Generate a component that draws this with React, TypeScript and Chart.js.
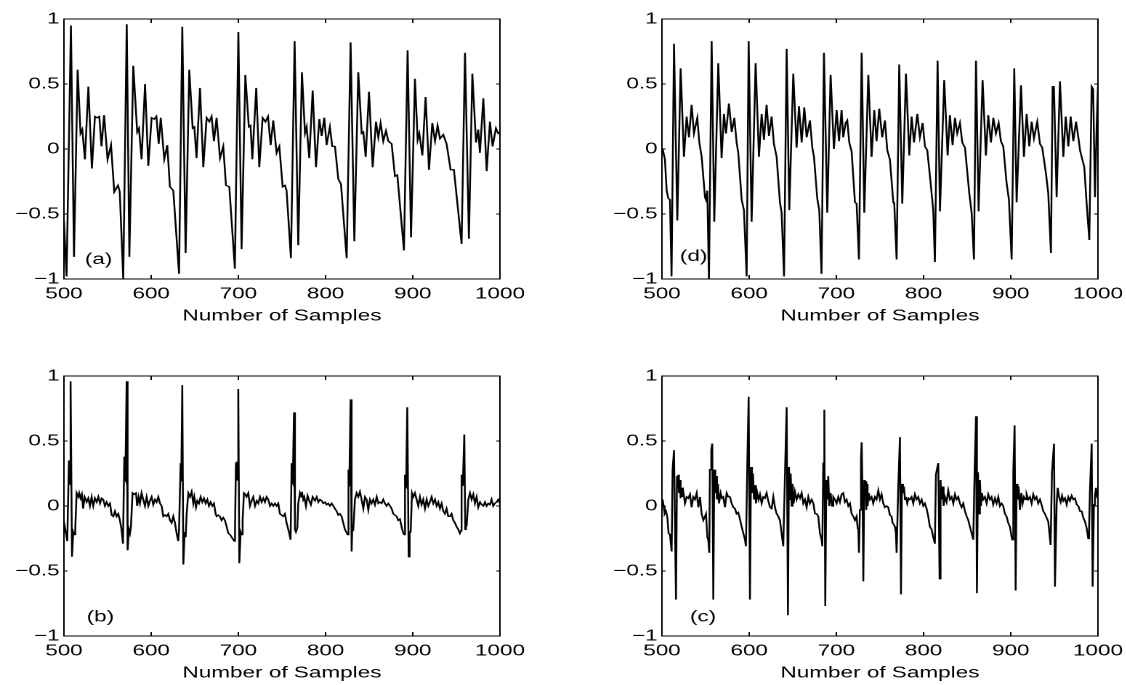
import React, { useEffect, useRef } from "react";
import { Chart, registerables } from "chart.js";

Chart.register(...registerables);

const xTickValues = [500, 600, 700, 800, 900, 1000];
const yTickValues = [-1, -0.5, 0, 0.5, 1];
const yTickLabels = ["−1", "−0.5", "0", "0.5", "1"];
const xAxisTitle = "Number of Samples";

// [sample, amplitude]
const signalA: [number, number][] = [
  [500, -0.55], [503, -0.98], [508, 0.95], [511.5, -0.83], [515.7, 0.61], [519, 0.12], [521, 0.15], [524, -0.08],
  [528, 0.48], [532, -0.15], [535.5, 0.25], [538, 0.24], [540.5, 0.25], [543, 0.02], [546, 0.26], [550, -0.08],
  [554, 0.03], [557.7, -0.33], [562, -0.28], [564, -0.33], [568, -1.0], [572, 0.96], [575, -0.83], [579.5, 0.64],
  [584, 0.13], [586, 0.16], [589, -0.08], [593, 0.5], [596.7, -0.13], [600.5, 0.24], [603.6, 0.23], [606, 0.25],
  [608.6, 0.04], [611, 0.24], [615, -0.08], [618.5, 0.03], [621.5, -0.29], [625.4, -0.32], [632, -0.96], [635.7, 0.94],
  [639.5, -0.8], [643.7, 0.61], [647.6, 0.16], [649.5, 0.17], [652, -0.07], [656, 0.47], [659.8, -0.14], [663.6, 0.24],
  [666.7, 0.21], [669.3, 0.25], [672, 0.06], [675, 0.24], [679, -0.07], [682.7, 0.02], [685.8, -0.28], [689.6, -0.29],
  [696, -0.92], [700, 0.9], [703.7, -0.77], [708, 0.57], [712, 0.17], [714, 0.18], [716, -0.08], [720.5, 0.47],
  [724, -0.14], [727.8, 0.24], [731, 0.21], [734, 0.25], [737, 0.03], [740, 0.22], [743.9, -0.03], [747, 0.02],
  [750.8, -0.29], [753.4, -0.28], [755.3, -0.32], [760.3, -0.84], [764.5, 0.83], [768.7, -0.74], [772.9, 0.59], [776.4, 0.12],
  [778.3, 0.17], [781.3, -0.07], [785.2, 0.45], [789, -0.14], [792.8, 0.23], [795.5, 0.1], [798.5, 0.24], [801.2, 0.03],
  [805, 0.17], [807.7, 0.02], [810.8, 0.02], [814.6, -0.23], [817.7, -0.27], [824.2, -0.84], [828.7, 0.82], [833, -0.71],
  [837.5, 0.59], [841.4, 0.12], [843.3, 0.13], [846, -0.06], [849.8, 0.44], [854, -0.14], [857.8, 0.21], [860.5, 0.09],
  [863.1, 0.2], [866.2, 0.06], [869.3, 0.14], [872, 0.06], [875.8, 0.04], [879.6, -0.21], [882.3, -0.2], [889.9, -0.78],
  [894.1, 0.76], [898, -0.68], [902.5, 0.54], [905.6, 0.07], [907.5, 0.12], [911, -0.05], [914.7, 0.4], [918.6, -0.16],
  [922.4, 0.2], [925.5, 0.06], [928.5, 0.18], [931.2, 0.08], [935, 0.11], [938.8, 0.04], [943.4, -0.16], [947.2, -0.16],
  [956, -0.73], [959.9, 0.74], [964.4, -0.69], [968.3, 0.58], [972.5, 0.05], [975.1, 0.15], [977, -0.03], [980.9, 0.39],
  [984.7, -0.17], [988.5, 0.21], [991.6, 0.02], [995.4, 0.16], [998, 0.12], [1000, 0.13],
];

// panel (d)
const signalD: [number, number][] = [
  [500.8, 0.0], [503.4, -0.08], [505.4, -0.32], [507.3, -0.38], [509.2, -0.39], [511, -0.98], [513.8, 0.81], [517.6, -0.55],
  [521.4, 0.62], [525.2, -0.06], [528.3, 0.25], [531, 0.09], [534, 0.34], [536.7, 0.12], [540.5, 0.24], [542.8, 0.05],
  [545.5, -0.06], [549.3, -0.37], [550.4, -0.39], [552, -0.32], [553.9, -1.0], [557, 0.83], [560, -0.56], [564.6, 0.66],
  [568.4, -0.07], [571.1, 0.27], [573.4, 0.12], [576.8, 0.35], [580, 0.13], [583, 0.24], [585.6, 0.05], [587.5, -0.03],
  [591.4, -0.39], [594, -0.47], [597.1, -0.98], [599.4, 0.83], [602.8, -0.56], [607.4, 0.66], [611.2, -0.06], [614.3, 0.27],
  [617, 0.07], [620, 0.34], [622.7, 0.1], [625.8, 0.25], [628.4, 0.04], [631.5, -0.06], [635.3, -0.41], [637.2, -0.49],
  [640, -0.98], [643, 0.77], [646, -0.47], [650.6, 0.58], [654.4, 0.01], [657.1, 0.33], [660.2, 0.05], [663.2, 0.32],
  [665.9, 0.09], [669.7, 0.22], [672.4, 0.01], [674.3, -0.06], [678.1, -0.38], [680.4, -0.47], [683, -0.96], [685.8, 0.74],
  [689.6, -0.49], [693.4, 0.57], [697.2, 0.0], [700.3, 0.3], [703, 0.06], [706, 0.3], [707.9, 0.09], [710.6, 0.2],
  [712.5, 0.22], [714.8, 0.05], [717.5, -0.02], [721.3, -0.41], [723.2, -0.42], [725.9, -0.85], [729, 0.74], [732, -0.49],
  [736.6, 0.57], [740.4, -0.06], [743.5, 0.3], [746.1, 0.06], [749.2, 0.31], [752.6, 0.09], [755.7, 0.22], [758.4, -0.01],
  [761.4, -0.08], [765.3, -0.41], [766.4, -0.42], [769.1, -0.85], [772.1, 0.65], [775.6, -0.42], [779.8, 0.58], [783.6, -0.05],
  [786.3, 0.25], [789, 0.05], [792.8, 0.27], [795.8, 0.09], [798.9, 0.2], [801.6, 0.02], [804.3, -0.01], [808.1, -0.26],
  [811.1, -0.47], [813, -0.87], [816.1, 0.68], [818.8, -0.48], [823.7, 0.53], [827.6, -0.05], [830.2, 0.26], [833.3, 0.03],
  [836, 0.24], [838.6, 0.12], [841.7, 0.2], [844.4, 0.05], [847.5, 0.01], [852.4, -0.34], [855.1, -0.49], [857.8, -0.85],
  [860.1, 0.68], [863.1, -0.48], [867.7, 0.53], [871.5, -0.05], [874.2, 0.26], [877.3, 0.05], [880, 0.24], [883, 0.12],
  [886.1, 0.2], [888.7, 0.06], [891.4, 0.02], [895.2, -0.26], [897.9, -0.39], [901, -0.85], [904, 0.62], [906.7, -0.41],
  [911.7, 0.49], [915.1, -0.06], [918.2, 0.27], [921.2, 0.02], [923.9, 0.21], [926.6, 0.08], [930.4, 0.21], [933.5, 0.04],
  [936.1, 0.01], [940.4, -0.19], [943, -0.34], [946.1, -0.8], [948, 0.48], [949.5, 0.48], [952.6, -0.37], [956.4, 0.52],
  [960.3, -0.06], [963, 0.25], [966, 0.02], [968.7, 0.25], [971.7, 0.06], [974.8, 0.21], [977.5, 0.09], [979.4, -0.01],
  [984.3, -0.14], [987, -0.42], [990.1, -0.7], [992.8, 0.48], [994.5, 0.46], [996.6, -0.37], [998.5, 0.17], [1000, 0.48],
];

// panel (b)
const signalB: [number, number][] = [
  [500, -0.12], [503.8, -0.27], [505.7, 0.35], [506.5, 0.17], [506.9, 0.35], [507.2, 0.16], [508, 0.96], [509.2, -0.39],
  [510.7, -0.2], [511.9, -0.22], [513, -0.17], [514.5, 0.1], [516.4, 0.07], [517.5, 0.1], [519, 0.06], [520.5, 0.09],
  [522, -0.02], [523.7, 0.07], [526, 0.03], [527.9, 0.06], [529.8, 0.0], [531.7, 0.07], [533.6, 0.0], [535.5, 0.06],
  [537.5, 0.03], [539.4, 0.07], [541.3, 0.02], [543.2, 0.06], [545, 0.05], [547, 0.0], [548.9, 0.03], [550.8, 0.0],
  [552.8, 0.02], [554.7, -0.07], [556.6, -0.08], [558.5, -0.04], [560.4, -0.08], [562.3, -0.06], [564.2, -0.11], [566, -0.18],
  [567.7, -0.29], [569.2, 0.38], [570, 0.22], [570.3, 0.38], [570.6, 0.21], [571.9, 0.96], [573, -0.34], [574.5, -0.18],
  [575.7, -0.21], [576.8, -0.16], [578.7, 0.1], [580.4, 0.09], [582.6, 0.1], [584, 0.0], [585.6, 0.07], [587.2, 0.02],
  [589, 0.1], [590.9, 0.05], [592.9, 0.0], [594.8, 0.07], [596.7, 0.0], [598.6, 0.04], [600.5, 0.07], [602.4, 0.01],
  [604.4, 0.05], [606.3, 0.03], [608.2, 0.07], [610.1, 0.02], [612, 0.0], [613.9, -0.08], [615.8, -0.07], [617.8, -0.08],
  [619.7, -0.06], [621.6, -0.11], [623.5, -0.13], [625.4, -0.08], [627.3, -0.13], [629.2, -0.21], [631.1, -0.27], [632, -0.18],
  [633.8, 0.33], [634.3, 0.19], [634.6, 0.33], [634.9, 0.22], [635.7, 0.93], [636.9, -0.45], [638.4, -0.2], [639.6, -0.24],
  [640.7, -0.06], [642.6, 0.1], [644.5, 0.07], [646.4, 0.11], [648.3, 0.02], [649.5, 0.07], [651.4, -0.01], [652.9, 0.04],
  [654.8, 0.02], [656.7, 0.07], [658.6, 0.03], [660.5, 0.06], [662.5, 0.02], [664.4, 0.05], [666.3, 0.0], [668.2, 0.03],
  [670.1, 0.0], [672, 0.02], [673.9, -0.06], [675.1, -0.08], [677, -0.07], [678.9, -0.08], [680.8, -0.11], [682.7, -0.09],
  [684.6, -0.11], [686.6, -0.16], [688.5, -0.21], [690.4, -0.22], [695.3, -0.27], [696.2, -0.18], [697.2, 0.33], [697.6, 0.21],
  [698, 0.34], [698.4, 0.2], [699.9, 0.9], [701.1, -0.44], [702.6, -0.2], [703.7, -0.22], [704.9, -0.11], [706.4, 0.1],
  [707.9, 0.09], [709.4, 0.07], [711.4, 0.1], [713.3, 0.0], [715.2, 0.04], [717.1, 0.07], [719.1, 0.0], [721, 0.04],
  [722.9, 0.02], [724.8, 0.07], [726.7, 0.03], [728.6, 0.06], [730.5, 0.03], [732.4, 0.07], [734.3, 0.05], [736.3, 0.0],
  [738.2, 0.02], [740.1, 0.0], [742, 0.02], [743.9, 0.0], [745.8, 0.02], [747.7, -0.06], [751.5, -0.08], [753.4, -0.06],
  [755.3, -0.13], [758.4, -0.21], [759.9, -0.26], [761.1, 0.33], [761.8, 0.19], [762.2, 0.33], [762.6, 0.18], [763.8, 0.72],
  [764.9, -0.18], [766, -0.2], [767.6, -0.17], [768.7, 0.02], [770.6, 0.1], [771.8, 0.07], [772.9, 0.11], [774.4, 0.05],
  [775.6, 0.07], [777.5, 0.0], [779.4, 0.08], [781.3, 0.04], [783.2, 0.01], [785.2, 0.07], [787.8, 0.04], [789.8, 0.07],
  [791.7, 0.03], [793.6, 0.05], [795.5, 0.04], [797.4, 0.02], [799.3, 0.03], [801.2, 0.01], [803.1, 0.02], [805, 0.0],
  [807, 0.02], [808.9, 0.0], [810.8, -0.02], [812.7, -0.04], [814.6, -0.07], [816.5, -0.06], [818.4, -0.08], [820.3, -0.13],
  [822.2, -0.18], [825.3, -0.22], [826.1, 0.28], [826.5, 0.15], [826.8, 0.28], [827.2, 0.15], [828.7, 0.82], [829.9, -0.35],
  [830.6, -0.17], [831.8, -0.18], [833.7, 0.05], [835.6, 0.1], [837.5, 0.07], [839.4, 0.11], [841.3, 0.05], [843.3, -0.02],
  [845.2, 0.07], [847.1, 0.05], [849, -0.03], [850.9, 0.05], [852.8, 0.02], [854.7, 0.05], [856.6, 0.01], [858.6, 0.07],
  [860.5, 0.02], [862.4, 0.03], [864.3, 0.02], [866.2, 0.05], [868.1, 0.02], [870, 0.0], [872, 0.02], [873.9, 0.0],
  [875.8, -0.02], [877.7, -0.06], [879.6, -0.07], [881.5, -0.08], [883.4, -0.11], [885.3, -0.1], [887.2, -0.16], [889.1, -0.21],
  [890.3, -0.22], [891.1, 0.24], [891.8, 0.17], [892.2, 0.24], [892.6, 0.16], [893.7, 0.76], [895.3, -0.39], [896.4, -0.2],
  [897.6, -0.2], [899.1, 0.1], [900.6, 0.07], [902.5, 0.1], [904.4, 0.05], [906.3, 0.0], [908.2, 0.07], [910.1, 0.01],
  [912, 0.05], [914, -0.02], [915.9, 0.05], [917.8, 0.0], [919.7, 0.03], [921.6, 0.07], [923.5, 0.02], [925.5, 0.05],
  [927.4, 0.0], [929.3, 0.03], [931.2, -0.02], [933.1, 0.02], [935, -0.04], [936.9, -0.06], [938.8, -0.02], [940.7, -0.08],
  [942.6, -0.08], [944.5, -0.06], [946.5, -0.11], [948.4, -0.13], [950.3, -0.16], [952.2, -0.18], [954.1, -0.21], [955.3, -0.19],
  [956, 0.24], [956.8, 0.16], [957.2, 0.24], [957.6, 0.16], [959.1, 0.55], [960.2, -0.18], [961, -0.16], [961.8, -0.15],
  [963.7, 0.05], [965.6, 0.1], [967.5, 0.05], [969.4, 0.09], [971.3, 0.02], [973.2, 0.07], [975.1, -0.01], [977.1, 0.03],
  [979, 0.01], [980.9, 0.0], [982.8, 0.03], [984.7, 0.0], [986.6, 0.02], [988.5, 0.01], [990.4, 0.05], [992.3, 0.0],
  [994.2, 0.02], [996.1, 0.03], [998.1, 0.05], [1000, 0.02],
];

// panel (c)
const signalC: [number, number][] = [
  [500.8, 0.05], [501.9, 0.0], [503.1, -0.06], [504.6, -0.04], [506.1, -0.08], [507.6, -0.21], [509.2, -0.22], [511.1, -0.35],
  [512.2, 0.28], [513.8, 0.43], [514.9, 0.43], [516.1, -0.72], [517.2, 0.23], [518, 0.15], [518.7, 0.24], [519.5, 0.1],
  [520.3, 0.2], [521.4, 0.06], [522.2, 0.14], [523.3, 0.07], [524.5, 0.11], [526.4, 0.02], [528.3, 0.07], [530.2, 0.06],
  [532.1, 0.09], [534, -0.01], [535.9, 0.07], [537.8, 0.05], [539.8, 0.1], [541.7, -0.01], [543.6, 0.07], [545.5, -0.06],
  [547.4, -0.11], [549.3, -0.08], [550.5, -0.06], [552, -0.24], [553.1, -0.26], [554.3, -0.36], [555, 0.28], [556.6, 0.43],
  [557.7, 0.48], [558.9, -0.72], [560, 0.28], [561.2, 0.1], [561.9, 0.23], [563.1, 0.05], [564.2, 0.17], [565.4, 0.02],
  [567.3, 0.1], [568.8, 0.06], [570.3, 0.07], [572.3, -0.01], [574.2, 0.1], [576.1, 0.07], [578, 0.07], [579.9, 0.02],
  [581.8, -0.01], [583.7, -0.02], [585.6, -0.06], [587.5, -0.05], [589.4, -0.1], [591.4, -0.16], [593.3, -0.21], [595.2, -0.26],
  [596.3, -0.31], [597.9, 0.33], [599.4, 0.84], [600.9, -0.72], [602.1, 0.3], [603.2, 0.1], [604.4, 0.25], [605.5, 0.05],
  [606.7, 0.16], [607.8, 0.02], [609.3, 0.1], [610.9, 0.05], [612.4, 0.09], [614.3, 0.02], [616.2, 0.07], [618.1, 0.06],
  [620, 0.1], [621.9, 0.04], [623.9, -0.01], [625.8, -0.02], [627.7, 0.07], [629.6, -0.01], [631.5, -0.06], [633.4, -0.08],
  [635.3, -0.11], [637.2, -0.21], [639.1, -0.31], [641.4, 0.33], [643, 0.76], [644.5, -0.84], [645.6, 0.3], [646.8, 0.05],
  [647.6, 0.25], [648.7, 0.0], [649.8, 0.17], [651, 0.02], [652.5, 0.11], [654.4, 0.05], [656.3, 0.09], [658.3, 0.06],
  [660.2, 0.1], [662.1, 0.02], [664, 0.05], [665.9, -0.01], [667.8, 0.07], [669.7, 0.02], [671.7, 0.05], [673.6, 0.02],
  [675.5, -0.06], [677.4, -0.06], [679.3, -0.08], [681.2, -0.21], [683.1, -0.26], [683.9, -0.31], [685, 0.33], [686.2, 0.74],
  [687.3, -0.77], [688.5, 0.2], [689.6, 0.05], [690.7, 0.23], [691.9, 0.0], [693.4, 0.1], [695, 0.0], [696.5, 0.07],
  [698.4, 0.05], [700.3, 0.02], [702.2, 0.07], [704.1, 0.03], [706, 0.09], [707.9, 0.1], [709.8, 0.03], [711.7, 0.05],
  [713.7, 0.0], [715.6, 0.02], [717.5, -0.06], [719.4, -0.08], [721.3, -0.11], [723.2, -0.08], [724.4, -0.17], [725.2, -0.18],
  [725.9, -0.36], [727, -0.03], [728.2, 0.35], [729, 0.49], [730.1, 0.05], [730.9, -0.58], [732, 0.2], [732.7, 0.1],
  [733.5, 0.19], [734.3, -0.03], [735.1, 0.17], [735.8, 0.0], [737, 0.1], [738.5, 0.05], [740.4, 0.07], [742.3, 0.02],
  [744.2, 0.07], [746.1, 0.05], [748.1, 0.12], [750, 0.05], [751.9, 0.09], [753.8, 0.02], [755.7, -0.01], [757.6, 0.0],
  [759.5, -0.01], [761.4, -0.07], [763.3, -0.08], [764.5, -0.13], [765.7, -0.14], [767.2, -0.16], [768.3, -0.21], [769.1, -0.36],
  [771, 0.15], [772.9, 0.53], [774.1, -0.68], [775.2, 0.17], [776.4, 0.1], [777.5, 0.15], [778.7, 0.05], [779.8, 0.07],
  [781.3, 0.02], [782.8, 0.06], [784.4, 0.05], [786.3, 0.07], [788.2, 0.02], [790.1, 0.09], [792, 0.05], [793.9, 0.07],
  [795.8, 0.02], [797.8, 0.05], [799.7, 0.0], [801.6, 0.02], [803.5, -0.02], [805.4, -0.08], [807.3, -0.16], [809.2, -0.18],
  [811.1, -0.24], [813, -0.29], [814.2, 0.24], [815.3, 0.28], [816.9, 0.33], [818.4, -0.56], [819.5, 0.2], [820.7, 0.05],
  [821.8, 0.15], [823, 0.0], [824.5, 0.07], [826.4, 0.03], [828.3, 0.12], [830.2, 0.05], [832.2, 0.07], [834.1, 0.02],
  [836, 0.09], [837.9, 0.05], [839.8, 0.07], [841.7, 0.02], [843.6, -0.01], [845.5, 0.02], [847.5, -0.04], [849.4, -0.08],
  [851.3, -0.11], [853.2, -0.16], [855.1, -0.21], [857, -0.26], [857.8, -0.26], [858.5, 0.26], [860.1, 0.69], [861.2, -0.67],
  [862.4, 0.26], [863.5, -0.06], [864.6, 0.2], [865.8, 0.0], [866.9, 0.1], [868.5, 0.05], [870.4, 0.07], [872.3, 0.02],
  [874.2, 0.09], [876.1, 0.05], [878, 0.07], [879.9, 0.01], [881.9, 0.06], [883.8, 0.02], [885.7, 0.07], [887.6, 0.0],
  [889.5, 0.02], [891.4, 0.0], [893.3, -0.06], [895.2, -0.08], [897.1, -0.13], [899.1, -0.16], [901, -0.24], [901.7, -0.26],
  [902.9, 0.26], [904.4, 0.62], [905.6, -0.65], [906.7, 0.17], [907.8, 0.05], [909, 0.15], [910.5, -0.03], [912.1, 0.1],
  [913.6, 0.02], [915.1, 0.07], [916.7, 0.05], [918.2, 0.09], [920.1, 0.05], [922, 0.07], [923.9, 0.02], [925.8, 0.09],
  [927.7, 0.05], [929.6, 0.07], [931.5, 0.02], [933.5, 0.05], [935.4, 0.01], [937.3, -0.04], [939.2, -0.06], [941.1, -0.09],
  [943, -0.12], [944.2, -0.2], [945.7, -0.3], [947.3, 0.26], [949.6, 0.48], [950.7, -0.62], [952.6, 0.01], [953.8, 0.14],
  [955.7, 0.06], [957.2, 0.03], [958.8, 0.08], [960.3, 0.04], [962.2, 0.06], [964.1, 0.01], [966, 0.07], [967.9, 0.04],
  [969.8, 0.08], [971.7, 0.05], [973.6, 0.06], [975.6, 0.01], [977.5, 0.0], [979.4, -0.04], [981.3, -0.04], [983.2, -0.09],
  [985.1, -0.12], [987, -0.17], [988.9, -0.25], [989.8, -0.2], [990.8, 0.11], [992.8, 0.48], [993.9, -0.62], [995.4, 0.01],
  [996.6, 0.08], [997.7, 0.14], [999.2, 0.06], [1000, 0.11],
];

const panelLabels = ["(a)", "(d)", "(b)", "(c)"];
const panelLabelAnchors: [number, number][] = [[524, -0.85], [520.5, -0.83], [526, -0.855], [532, -0.855]];

const STRETCH = 436 / 300; // horizontal stretch of the whole figure
const CANVAS_W = 388;
const PLOT_LEFT = 44;
const PLOT_RIGHT = 344;
const FONT_FAMILY = '"Liberation Sans", Arial, Helvetica, sans-serif';
const FONT_SIZE = 15.5;

const framePlugin = {
  id: "frame",
  afterDatasetsDraw(chart: any) {
    const { ctx, chartArea, scales } = chart;
    const { left, right, top, bottom } = chartArea;
    const x = scales.x;
    const y = scales.y;
    ctx.save();
    ctx.strokeStyle = "#000";
    ctx.lineWidth = 1;
    ctx.strokeRect(left, top, right - left, bottom - top);
    ctx.beginPath();
    xTickValues.forEach((v) => {
      const px = x.getPixelForValue(v);
      ctx.moveTo(px, bottom);
      ctx.lineTo(px, bottom - 4);
      ctx.moveTo(px, top);
      ctx.lineTo(px, top + 4);
    });
    yTickValues.forEach((v) => {
      const py = y.getPixelForValue(v);
      ctx.moveTo(left, py);
      ctx.lineTo(left + 2.5, py);
      ctx.moveTo(right, py);
      ctx.lineTo(right - 2.5, py);
    });
    ctx.stroke();
    const opts = chart.options.plugins.frame;
    ctx.font = `${FONT_SIZE}px ${FONT_FAMILY}`;
    ctx.fillStyle = "#000";
    ctx.textAlign = "left";
    ctx.textBaseline = "middle";
    ctx.fillText(opts.label, x.getPixelForValue(opts.anchor[0]), y.getPixelForValue(opts.anchor[1]));
    ctx.restore();
  },
};

type PanelProps = {
  signal: [number, number][];
  label: string;
  anchor: [number, number];
  left: number;
  top: number;
  height: number;
  plotTop: number;
  titlePad: number;
};

function Panel({ signal, label, anchor, left, top, height, plotTop, titlePad }: PanelProps) {
  const ref = useRef<HTMLCanvasElement | null>(null);
  useEffect(() => {
    if (!ref.current) return;
    const plotBottom = plotTop + 260;
    const font = { family: FONT_FAMILY, size: FONT_SIZE };
    const chart = new Chart(ref.current, {
      type: "line",
      data: {
        datasets: [
          {
            data: signal.map(([sx, sy]) => ({ x: sx, y: sy })),
            borderColor: "#000",
            borderWidth: 1.25,
            pointRadius: 0,
            tension: 0,
            fill: false,
          },
        ],
      },
      options: {
        animation: false,
        responsive: false,
        devicePixelRatio: 2,
        events: [],
        layout: { padding: { top: plotTop, right: CANVAS_W - PLOT_RIGHT, left: 0, bottom: 0 } },
        plugins: {
          legend: { display: false },
          tooltip: { enabled: false },
          frame: { label, anchor },
        } as any,
        scales: {
          x: {
            type: "linear",
            min: 500,
            max: 1000,
            afterBuildTicks: (s: any) => {
              s.ticks = xTickValues.map((v) => ({ value: v }));
            },
            afterFit: (s: any) => {
              s.height = height - plotBottom;
            },
            grid: { display: false, drawTicks: false },
            border: { display: false },
            ticks: {
              font,
              color: "#000",
              padding: 6,
              maxRotation: 0,
              autoSkip: false,
              callback: (v: any) => String(v),
            },
            title: {
              display: true,
              text: xAxisTitle,
              font,
              color: "#000",
              padding: { top: 0, bottom: titlePad },
            },
          },
          y: {
            type: "linear",
            min: -1,
            max: 1,
            afterBuildTicks: (s: any) => {
              s.ticks = yTickValues.map((v) => ({ value: v }));
            },
            afterFit: (s: any) => {
              s.width = PLOT_LEFT;
            },
            grid: { display: false, drawTicks: false },
            border: { display: false },
            ticks: {
              font,
              color: "#000",
              padding: 3,
              autoSkip: false,
              callback: (v: any) => {
                const i = yTickValues.indexOf(Number(v));
                return i >= 0 ? yTickLabels[i] : "";
              },
            },
          },
        },
      } as any,
      plugins: [framePlugin],
    });
    return () => chart.destroy();
  }, []);

  return (
    <div style={{ position: "absolute", left, top, width: CANVAS_W * STRETCH, height }}>
      <div style={{ transform: `scaleX(${STRETCH})`, transformOrigin: "0 0", width: CANVAS_W, height }}>
        <canvas ref={ref} width={CANVAS_W} height={height} style={{ display: "block", width: CANVAS_W, height }} />
      </div>
    </div>
  );
}

export default function App() {
  return (
    <div
      style={{
        position: "absolute",
        left: 0,
        top: 0,
        width: 1126,
        height: 685,
        overflow: "hidden",
        background: "#fff",
      }}
    >
      <Panel signal={signalA} label={panelLabels[0]} anchor={panelLabelAnchors[0]} left={0} top={0} height={345} plotTop={19} titlePad={19.5} />
      <Panel signal={signalD} label={panelLabels[1]} anchor={panelLabelAnchors[1]} left={598} top={0} height={345} plotTop={19} titlePad={19.5} />
      <Panel signal={signalB} label={panelLabels[2]} anchor={panelLabelAnchors[2]} left={0} top={345} height={340} plotTop={31} titlePad={2.5} />
      <Panel signal={signalC} label={panelLabels[3]} anchor={panelLabelAnchors[3]} left={598} top={345} height={340} plotTop={31} titlePad={2.5} />
    </div>
  );
}
